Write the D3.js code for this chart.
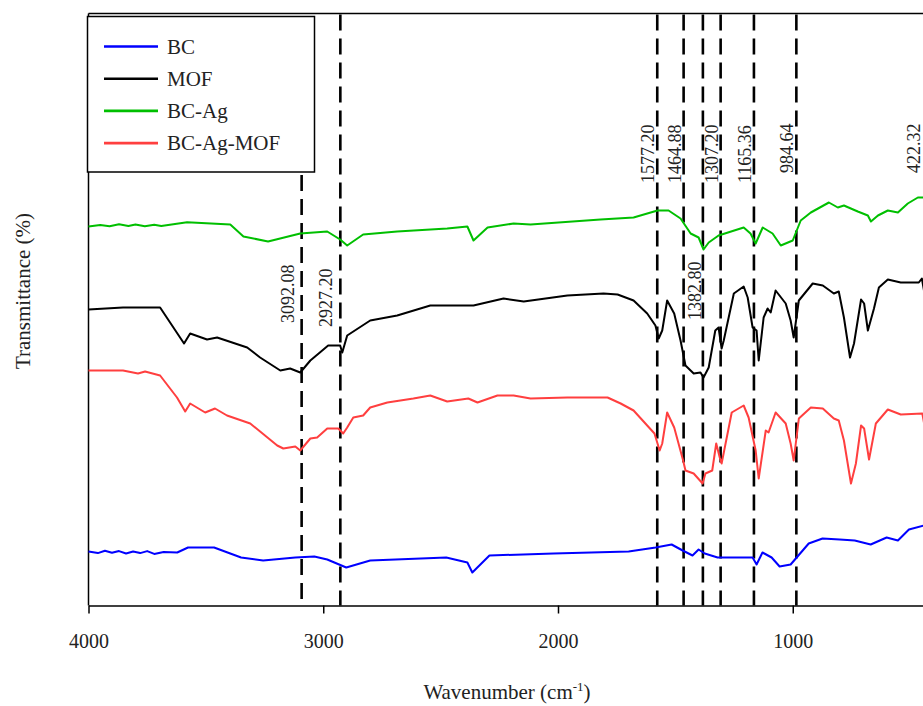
<!DOCTYPE html>
<html>
<head>
<meta charset="utf-8">
<script src="https://cdn.jsdelivr.net/npm/d3@7"></script>
<style>
  body { margin: 0; background: #fff; }
  svg { display: block; font-family: "Liberation Serif", "Times New Roman", serif; }
</style>
</head>
<body>
<svg id="chart" width="923" height="706"></svg>
<script>
// FTIR spectra, [wavenumber, transmittance (offset, a.u.)]
var bcData = [
  [4000, 13.5], [3960, 13.1], [3930, 13.7], [3900, 13.2], [3870, 13.6], [3840, 13.0],
  [3810, 13.5], [3780, 13.1], [3750, 13.6], [3720, 12.9], [3680, 13.4], [3622, 13.25],
  [3576, 14.5], [3465, 14.5], [3350, 12], [3256, 11.25], [3119, 12], [3038, 12.25],
  [2983, 11.5], [2902, 9.5], [2800, 11.25], [2476, 12], [2386, 10.75], [2365, 8.25],
  [2292, 12.5], [2019, 13], [1699, 13.5], [1584, 14.5], [1516, 15.25], [1469, 13.75],
  [1427, 12.5], [1401, 14], [1375, 13], [1320, 12], [1171, 12], [1154, 10.25],
  [1129, 13.25], [1090, 12], [1056, 9.75], [1009, 10.25], [932, 15.5], [873, 16.75],
  [800, 16.5], [736, 16.25], [668, 15.25], [600, 17], [552, 16.25], [505, 19],
  [442, 20], [400, 20.5]
];

var mofData = [
  [4000, 74], [3853, 74.5], [3695, 74.5], [3610, 67], [3593, 65.5], [3567, 68],
  [3495, 66.5], [3452, 67], [3324, 64.5], [3269, 62], [3183, 58.75], [3141, 59.25],
  [3098, 58.25], [3055, 61.25], [2979, 65], [2928, 65], [2919, 63.25], [2898, 67.5],
  [2800, 71.25], [2685, 72.5], [2544, 75], [2360, 75], [2232, 76.75], [2146, 76],
  [1960, 77.5], [1806, 78], [1746, 77.75], [1678, 76.25], [1620, 73], [1585, 70],
  [1571, 66.75], [1556, 68.75], [1535, 76.25], [1505, 73], [1478, 66.25], [1457, 60],
  [1422, 58], [1393, 58.25], [1380, 57], [1358, 59.5], [1330, 68.75], [1316, 69.5],
  [1303, 64.25], [1294, 66.25], [1251, 78], [1209, 79.75], [1192, 77], [1171, 69.5],
  [1154, 68.75], [1145, 61.25], [1124, 72], [1107, 74.25], [1094, 73.25], [1073, 78.75],
  [1030, 75.5], [1009, 71.25], [996, 67], [974, 76.25], [915, 80.5], [872, 80],
  [825, 78], [804, 78.5], [782, 72], [756, 62], [739, 65.5], [709, 76.5],
  [696, 75.5], [680, 68.75], [654, 74.25], [633, 79.5], [595, 81.5], [540, 80.75],
  [463, 80.75], [450, 81.75], [435, 76.75], [400, 76.75]
];

var bcAgData = [
  [4000, 94.75], [3950, 95.1], [3910, 94.8], [3870, 95.3], [3830, 94.9], [3800, 95.25],
  [3760, 94.8], [3720, 95.2], [3690, 94.9], [3580, 95.8], [3396, 95.25], [3340, 92.25],
  [3235, 91], [3098, 93], [2983, 93.5], [2928, 91.5], [2898, 90], [2830, 92.75],
  [2685, 93.5], [2472, 94.25], [2386, 94.75], [2360, 91.25], [2300, 94.5], [2189, 95.5],
  [2117, 95.25], [1819, 96.5], [1678, 97], [1576, 98.75], [1529, 98.75], [1478, 96.75],
  [1435, 93], [1401, 92], [1380, 89], [1358, 90.75], [1316, 92.5], [1209, 94.5],
  [1180, 93], [1158, 90.5], [1128, 94.5], [1086, 93], [1051, 90], [1000, 91.25],
  [966, 96.25], [923, 98.25], [846, 100.75], [808, 99.5], [782, 100], [723, 98.5],
  [680, 97.5], [667, 96], [637, 97.5], [595, 98.75], [552, 98.25], [510, 100.5],
  [467, 102], [442, 102], [400, 102.5]
];

var bcAgMofData = [
  [4000, 58.75], [3853, 58.75], [3789, 58], [3759, 58.5], [3695, 57.5], [3623, 52],
  [3588, 48.5], [3567, 50.5], [3503, 48.25], [3461, 49.25], [3410, 47.5], [3311, 45.5],
  [3196, 40], [3170, 39.25], [3119, 39.75], [3098, 38.75], [3055, 41.75], [3026, 42],
  [2983, 44.25], [2936, 44.25], [2915, 43], [2898, 44.5], [2872, 47], [2830, 47.5],
  [2800, 49.5], [2727, 50.75], [2616, 51.75], [2544, 52.5], [2472, 51], [2382, 51.75],
  [2343, 50.75], [2258, 52.5], [2189, 52.5], [2117, 51.75], [1960, 52], [1789, 52],
  [1733, 50.5], [1678, 48.75], [1620, 45], [1589, 43], [1567, 38.75], [1556, 40.5],
  [1535, 48.25], [1505, 44.5], [1467, 36.25], [1457, 33.75], [1422, 33], [1384, 30.5],
  [1372, 33], [1343, 33.75], [1326, 40.5], [1311, 37], [1303, 35.5], [1260, 48.25],
  [1209, 50], [1188, 47], [1158, 38.75], [1145, 31.75], [1115, 43.75], [1103, 43.25],
  [1073, 48.25], [1030, 45.5], [1009, 40.5], [996, 36.25], [974, 46.75], [923, 49.5],
  [872, 49.25], [825, 46.75], [804, 46.25], [782, 41.25], [752, 30.5], [731, 35.5],
  [709, 45], [696, 44.25], [675, 36.5], [646, 45.5], [595, 49], [540, 47.75],
  [448, 48], [435, 43.75], [400, 43.75]
];

var seriesNames = ['BC', 'MOF', 'BC-Ag', 'BC-Ag-MOF'];
var seriesColors = ['#0000ff', '#000000', '#00bf00', '#ff3f3f'];
var seriesData = [bcData, mofData, bcAgData, bcAgMofData];

var peaks = [3092.08, 2927.20, 1577.20, 1464.88, 1382.80, 1307.20, 1165.36, 984.64, 422.32];
var peakLabels = ['3092.08', '2927.20', '1577.20', '1464.88', '1382.80', '1307.20', '1165.36', '984.64', '422.32'];
var lowLabels = ['3092.08', '2927.20', '1382.80'];

var xTicks = [4000, 3000, 2000, 1000];

var svg = d3.select('#chart');

var plotLeft = 88.5, plotTop = 13.5, plotBottom = 605.5;

var x = d3.scaleLinear().domain([4000, 400]).range([plotLeft, 933.6]);
var y = d3.scaleLinear().domain([0, 148]).range([plotBottom, plotTop]);

/**
 * frame
 */
svg.append('line')
  .attr('x1', plotLeft).attr('x2', 923)
  .attr('y1', plotTop).attr('y2', plotTop)
  .attr('stroke', '#000').attr('stroke-width', 1.5);

svg.append('line')
  .attr('x1', plotLeft).attr('x2', plotLeft)
  .attr('y1', plotTop).attr('y2', plotBottom)
  .attr('stroke', '#000').attr('stroke-width', 1.5);

var xAxis = svg.append('g')
  .attr('transform', 'translate(0,' + plotBottom + ')')
  .call(d3.axisBottom(x).tickValues(xTicks).tickSize(8).tickSizeOuter(0).tickFormat(d3.format('d')));

xAxis.select('.domain').attr('stroke-width', 1.5);
xAxis.selectAll('.tick line').attr('stroke-width', 1.5);
xAxis.selectAll('.tick text')
  .attr('y', 42)
  .attr('dy', 0)
  .style('font-family', '"Liberation Serif", serif')
  .style('font-size', '20px')
  .attr('fill', '#222');

// axis titles
var xTitle = svg.append('text')
  .attr('x', 507).attr('y', 699)
  .attr('text-anchor', 'middle')
  .style('font-size', '21px')
  .attr('fill', '#222');
xTitle.append('tspan').text('Wavenumber (cm');
xTitle.append('tspan').text('-1').attr('dy', -8).style('font-size', '13px');
xTitle.append('tspan').text(')').attr('dy', 8);

svg.append('text')
  .attr('transform', 'translate(30,291) rotate(-90)')
  .attr('text-anchor', 'middle')
  .style('font-size', '21px')
  .attr('fill', '#222')
  .text('Transmittance (%)');

/**
 * peak markers
 */
var peakGroup = svg.append('g').attr('id', 'peaks');

peakGroup.selectAll('line')
  .data(peaks)
  .enter()
  .append('line')
  .attr('x1', function (d) { return x(d); })
  .attr('x2', function (d) { return x(d); })
  .attr('y1', function (d) { return d === 3092.08 ? 175 : plotTop + 1; })
  .attr('y2', plotBottom)
  .attr('stroke', '#000')
  .attr('stroke-width', 2.6)
  .attr('stroke-dasharray', '16,8');

peakGroup.selectAll('text')
  .data(peaks)
  .enter()
  .append('text')
  .attr('transform', function (d, i) {
    var label = peakLabels[i];
    var isLow = lowLabels.indexOf(label) > -1;
    var yBase = isLow ? (d > 3000 ? 323 : (d > 2000 ? 327 : 320)) : (d < 1000 ? 173 : 183);
    var off = isLow ? (d > 2000 ? 8 : 2) : (d < 500 ? 8 : 3);
    return 'translate(' + (x(d) - off) + ',' + yBase + ') rotate(-90)';
  })
  .style('font-size', '18px')
  .attr('fill', '#222')
  .text(function (d, i) { return peakLabels[i]; });

/**
 * spectra
 */
var drawLine = d3.line()
  .x(function (d) { return x(d[0]); })
  .y(function (d) { return y(d[1]); });

svg.append('g')
  .selectAll('path')
  .data(seriesData)
  .enter()
  .append('path')
  .attr('d', drawLine)
  .attr('fill', 'none')
  .attr('stroke', function (d, i) { return seriesColors[i]; })
  .attr('stroke-width', 2)
  .attr('stroke-linejoin', 'round');

/**
 * legend
 */
var legend = svg.append('g').attr('id', 'legend');

legend.append('rect')
  .attr('x', 87.5).attr('y', 16.5)
  .attr('width', 227).attr('height', 155.5)
  .attr('fill', '#fff')
  .attr('stroke', '#000')
  .attr('stroke-width', 1.5);

var legendItem = legend.selectAll('g.item')
  .data(seriesNames)
  .enter()
  .append('g')
  .attr('class', 'item')
  .attr('transform', function (d, i) { return 'translate(0,' + (46.5 + i * 32.2) + ')'; });

legendItem.append('line')
  .attr('x1', 104).attr('x2', 158)
  .attr('stroke', function (d, i) { return seriesColors[i]; })
  .attr('stroke-width', 2.6);

legendItem.append('text')
  .attr('x', 167).attr('y', 7)
  .style('font-size', '21px')
  .attr('fill', '#222')
  .text(function (d) { return d; });
</script>
</body>
</html>
